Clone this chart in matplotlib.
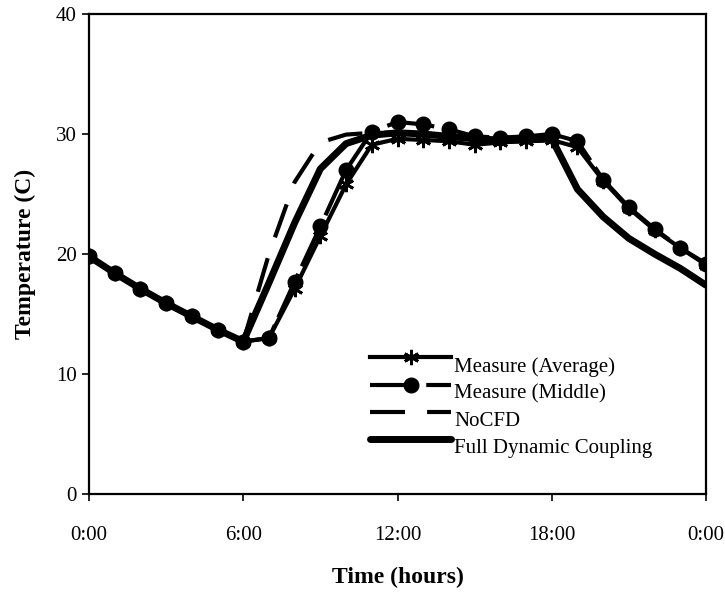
import matplotlib
matplotlib.use("Agg")
import matplotlib.pyplot as plt

plt.rcParams['font.family'] = ['Liberation Serif', 'DejaVu Serif']

hours = list(range(25))
measure_avg = [19.8, 18.4, 17.1, 15.9, 14.8, 13.7, 12.7, 13.0, 17.1, 21.5, 25.8, 29.1,
               29.6, 29.5, 29.4, 29.1, 29.3, 29.4, 29.5, 28.9, 26.1, 23.8, 22.0, 20.5, 19.1]
measure_mid = [19.8, 18.4, 17.1, 15.9, 14.8, 13.7, 12.7, 13.0, 17.7, 22.3, 27.0, 30.2,
               31.0, 30.8, 30.4, 29.8, 29.7, 29.8, 30.0, 29.4, 26.2, 23.9, 22.1, 20.5, 19.2]
no_cfd = [19.8, 18.4, 17.1, 15.9, 14.8, 13.7, 12.7, 20.0, 26.0, 29.3, 29.95, 30.1,
          30.1, 30.0, 29.8, 29.6, 29.5, 29.5, 29.6, 25.4, 23.1, 21.3, 20.0, 18.8, 17.4]
full_dyn = [19.8, 18.4, 17.1, 15.9, 14.8, 13.7, 12.7, 17.6, 22.6, 27.1, 29.2, 29.9,
            30.1, 30.0, 29.8, 29.6, 29.5, 29.5, 29.6, 25.4, 23.1, 21.3, 20.0, 18.8, 17.4]

series_labels = ["Measure (Average)", "Measure (Middle)", "NoCFD", "Full Dynamic Coupling"]
xtick_pos = [0, 6, 12, 18, 24]
xtick_labels = ["0:00", "6:00", "12:00", "18:00", "0:00"]
ytick_pos = [0, 10, 20, 30, 40]

fig = plt.figure(figsize=(7.25, 5.92), dpi=100)
ax = fig.add_axes([89/725, 1-494/592, 617/725, 480/592])

l_nocfd, = ax.plot(hours, no_cfd, color='black', lw=3, dashes=(8.4, 5.3), solid_capstyle='butt', dash_capstyle='butt', zorder=2)
l_full, = ax.plot(hours, full_dyn, color='black', lw=5, solid_capstyle='round', zorder=3)
l_avg, = ax.plot(hours, measure_avg, color='black', lw=3, marker=(6, 2, 0), markersize=11,
                 markeredgewidth=2, zorder=4)
l_mid, = ax.plot(hours, measure_mid, color='black', lw=3, dashes=(11.5, 2), marker='o',
                 markersize=10.5, zorder=5)

ax.set_xlim(0, 24)
ax.set_ylim(0, 40)
ax.set_xticks(xtick_pos)
ax.set_xticklabels(xtick_labels)
ax.set_yticks(ytick_pos)
ax.tick_params(axis='both', direction='out', length=5, width=1.2, labelsize=15, color='black')
ax.tick_params(axis='x', pad=18)
ax.tick_params(axis='y', pad=4)
for s in ax.spines.values():
    s.set_linewidth(1.6)
    s.set_color('black')

ax.set_xlabel("Time (hours)", fontsize=17, fontweight='bold', labelpad=16)
ax.set_ylabel("Temperature (C)", fontsize=17, fontweight='bold', labelpad=14)

leg = ax.legend([l_avg, l_mid, l_nocfd, l_full], series_labels, loc='upper left',
                bbox_to_anchor=((370-89)/617, (494-350)/480), frameon=False, fontsize=15,
                handlelength=3.9, handletextpad=0.15, labelspacing=0.36, borderpad=0,
                borderaxespad=0)
for t in leg.get_texts():
    t.set_position((0, -7))

fig.savefig("out.png", dpi=100)
